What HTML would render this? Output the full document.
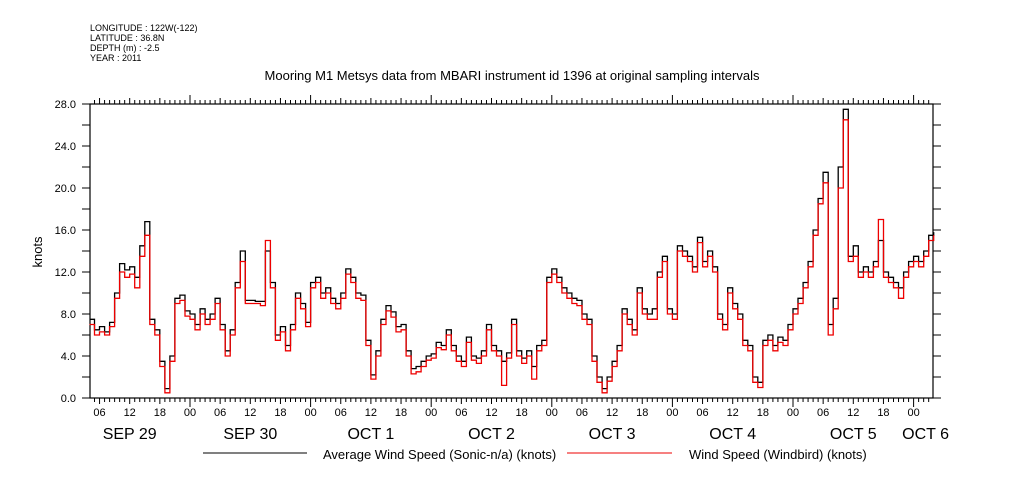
<!DOCTYPE html>
<html><head><meta charset="utf-8"><style>
body{margin:0;background:#fff;width:1009px;height:504px;overflow:hidden}
svg{display:block}
text{font-family:"Liberation Sans",sans-serif;fill:#000}
</style></head><body>
<svg id="chart" width="1009" height="504">
<g font-size="9">
<text x="90" y="31">LONGITUDE : 122W(-122)</text>
<text x="90" y="41">LATITUDE : 36.8N</text>
<text x="90" y="51">DEPTH (m) : -2.5</text>
<text x="90" y="61">YEAR : 2011</text>
</g>
<text x="512" y="80" text-anchor="middle" font-size="13">Mooring M1 Metsys data from MBARI instrument id 1396 at original sampling intervals</text>
<text transform="translate(42,252) rotate(-90)" text-anchor="middle" font-size="13">knots</text>
<g id="axes"></g>
<g id="series"></g>
<g>
<line x1="203" y1="453" x2="307" y2="453" stroke="#000"/>
<text x="323" y="459" font-size="13">Average Wind Speed (Sonic-n/a) (knots)</text>
<line x1="567" y1="453" x2="672" y2="453" stroke="#e00"/>
<text x="689" y="459" font-size="13">Wind Speed (Windbird) (knots)</text>
</g>
</svg>
<script>
const startHour = 4;
const avgSpeed = [7.5,6.5,6.8,6.3,7.2,10,12.8,12.2,12.5,11.5,14.5,16.8,7.5,6.5,3.5,0.9,4,9.5,9.8,8.3,8,7,8.5,7.5,8,9.5,7,4.5,6.5,11,14,9.3,9.3,9.2,9.2,14,11,6,6.8,5,7,10,9,7.2,11,11.5,10,10.5,9.5,9,10,12.3,11.5,10,9.8,5.5,2.2,4.5,7.5,8.8,8.2,6.8,7,4.5,2.8,3,3.5,4,4.2,5.3,5,6.5,5,4,3.5,5.8,4,3.8,4.5,7,5,4.5,3.5,4.3,7.5,4.5,3.8,4.5,3,5,5.5,11.5,12.3,11.5,10.5,10,9.5,9.3,8,7.5,4,2,0.9,2,3.5,5,8.5,7.5,6.5,10.5,8.5,8,8.5,12,13.5,8.5,8,14.5,14,13.5,12.5,15.3,13,14,12.5,8,7,10.5,9,8,5.5,5,2,1.5,5.5,6,5,5.8,5.5,7,8.5,9.5,11,13,16,19,21.5,7,9.5,22,27.5,13.5,14.5,12,12.5,12,13,15,12,11.5,11,10.5,12,13,13.5,13,14,15.5,15.8];
const windbirdSpeed = [7,6,6.3,6,6.8,9.5,12,11.5,11.8,10.5,13.5,15.5,7,6,3,0.5,3.5,9,9.3,7.8,7.5,6.5,8,7,7.5,9,6.5,4,6,10.5,13,9,9,9,8.8,15,10.5,5.5,6.3,4.5,6.5,9.5,8.5,6.8,10.5,11,9.5,10,9,8.5,9.5,11.8,11,9.5,9.3,5,1.8,4,7,8.3,7.7,6.3,6.5,4,2.3,2.5,3,3.6,3.8,4.8,4.6,6,4.5,3.5,3,5.3,3.6,3.3,4,6.5,4.5,4,1.2,3.8,7,4,3.3,4,1.8,4.5,5,11,11.8,11,10,9.5,9,8.8,7.5,7,3.5,1.5,0.5,1.6,3,4.5,8,7,6,10,8,7.5,7.5,11.5,13,8,7.5,14,13.5,13,12,14.8,12.5,13.5,12,7.5,6.5,10,8.5,7.5,5,4.5,1.5,1,5,5.5,4.5,5.3,5,6.5,8,9,10.5,12.5,15.5,18.5,20.5,6,8.5,20,26.5,13,13.5,11.5,12,11.5,12.5,17,11.5,11,10.5,9.5,11.5,12.5,13,12.5,13.5,15,15.5];
const yTickValues = [0,4,8,12,16,20,24,28];
const yTickLabels = ["0.0","4.0","8.0","12.0","16.0","20.0","24.0","28.0"];
const dayLabels = ["SEP  29","SEP  30","OCT   1","OCT   2","OCT   3","OCT   4","OCT   5","OCT   6"];
const hourLabels = ["00","06","12","18"];

const NS='http://www.w3.org/2000/svg';
const X0=90,X1=933,Y0=398,Y1=104;
const pxPerHour=5.025, zeroX=190-24*5.025;
function xScale(h){return zeroX+h*pxPerHour;}
function yScale(v){return Y0-(v/28)*(Y0-Y1);}
function mk(tag,attrs,parent){const e=document.createElementNS(NS,tag);for(const k in attrs)e.setAttribute(k,attrs[k]);parent.appendChild(e);return e;}
const axes=document.getElementById('axes');
const fr=mk('rect',{x:X0,y:Y1,width:X1-X0,height:Y0-Y1,fill:'none',stroke:'#000','stroke-width':1.2},axes);


for(let v=0;v<=28;v+=2){
  const y=yScale(v);
  const t1=mk('line',{x1:X0-8,y1:y,x2:X0,y2:y,stroke:'#000'},axes);
  
  
  const t2=mk('line',{x1:X1,y1:y,x2:X1+8,y2:y,stroke:'#000'},axes);
  
  
}
yTickValues.forEach((v,i)=>{
  const t=mk('text',{x:76,y:yScale(v)+4,'text-anchor':'end','font-size':11},axes);
  t.textContent=yTickLabels[i];
  
  
});
for(let h=Math.ceil((X0-zeroX)/pxPerHour);xScale(h)<=X1;h++){
  const x=xScale(h);
  const major=h%24===0, mid=h%6===0;
  const len=major?9:(mid?6:4);
  const a=mk('line',{x1:x,y1:Y0,x2:x,y2:Y0+len,stroke:'#000'},axes);
  
  
  const b=mk('line',{x1:x,y1:Y1,x2:x,y2:Y1-len,stroke:'#000'},axes);
  
  
  if(mid){
    const t=mk('text',{x:x,y:416,'text-anchor':'middle','font-size':11},axes);
    t.textContent=hourLabels[(h%24)/6];
    
    
  }
}
dayLabels.forEach((d,i)=>{
  const cx = i===7 ? xScale(24*7)+12 : xScale(24*i+12);
  const t=mk('text',{x:cx,y:439,'text-anchor':'middle','font-size':16,'xml:space':'preserve'},axes);
  t.textContent=d;
  
  
});
const series=document.getElementById('series');
function stepPath(arr){
  let d='';
  arr.forEach((v,i)=>{const x=xScale(startHour+i),y=yScale(v);d+=(i?'H'+x.toFixed(1)+'V':'M'+x.toFixed(1)+','),d+=y.toFixed(1);});
  return d;
}
const pb=mk('path',{d:stepPath(avgSpeed),fill:'none',stroke:'#000','stroke-width':1.3},series);


const pr=mk('path',{d:stepPath(windbirdSpeed),fill:'none',stroke:'#e00','stroke-width':1.3},series);


</script>
</body></html>
